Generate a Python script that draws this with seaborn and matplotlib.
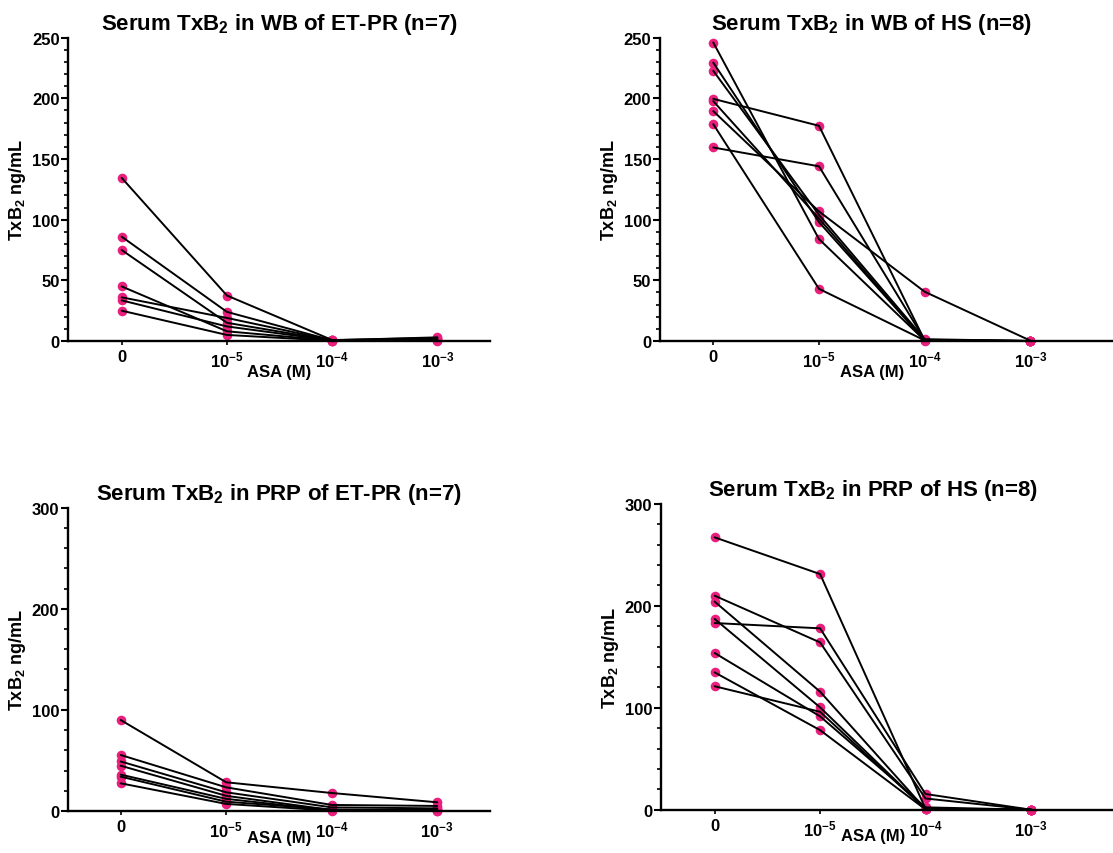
import matplotlib

matplotlib.use("Agg")
import matplotlib.pyplot as plt
from matplotlib.ticker import MultipleLocator
import pandas as pd
import seaborn as sns

sns.set_theme(style="ticks")
plt.rcParams["font.family"] = ["Liberation Sans", "DejaVu Sans"]
plt.rcParams["font.weight"] = "bold"
plt.rcParams["mathtext.fontset"] = "custom"
for key in ("rm", "it", "bf", "sf"):
    plt.rcParams[f"mathtext.{key}"] = "Liberation Sans:bold"
for key in ("text.color", "axes.labelcolor", "xtick.color", "ytick.color"):
    plt.rcParams[key] = "black"

PINK = "#E91E7D"

CONC_LABELS = ["0", "$10^{-5}$", "$10^{-4}$", "$10^{-3}$"]

# one row per subject: 0, 1e-5, 1e-4, 1e-3 M ASA (TxB2 ng/mL)
WB_ETPR = [
    [134.5, 37.5, 0.8, 2.5],
    [86.0, 24.0, 0.5, 1.5],
    [75.0, 15.0, 0.5, 1.0],
    [45.0, 8.0, 0.3, 0.5],
    [36.0, 19.0, 0.6, 3.0],
    [33.5, 12.0, 0.4, 0.8],
    [25.0, 5.0, 0.2, 0.3],
]

WB_HS = [
    [246.0, 84.0, 0.5, 0.0],
    [229.5, 98.0, 0.5, 0.0],
    [222.7, 104.0, 1.5, 0.0],
    [199.6, 177.4, 0.5, 0.0],
    [197.7, 101.0, 0.3, 0.0],
    [189.5, 106.8, 40.6, 0.3],
    [178.7, 43.0, 0.5, 0.0],
    [159.5, 144.0, 1.0, 0.0],
]

PRP_ETPR = [
    [90.0, 28.4, 17.8, 8.6],
    [55.4, 23.4, 6.0, 5.0],
    [49.0, 18.5, 3.6, 2.6],
    [44.8, 15.0, 1.0, 1.5],
    [36.0, 12.0, 0.5, 0.5],
    [34.0, 9.2, 1.5, 0.3],
    [27.4, 7.0, 0.3, 0.2],
]

PRP_HS = [
    [267.0, 231.0, 1.0, 0.0],
    [209.8, 164.0, 11.0, 0.0],
    [204.0, 115.7, 0.5, 0.0],
    [187.0, 100.3, 0.5, 0.0],
    [183.0, 177.8, 15.4, 0.0],
    [153.6, 91.5, 2.3, 0.0],
    [134.6, 78.0, 0.3, 0.0],
    [121.0, 96.0, 0.5, 0.0],
]

TITLES = [
    "Serum TxB$_2$ in WB of ET-PR (n=7)",
    "Serum TxB$_2$ in WB of HS (n=8)",
    "Serum TxB$_2$ in PRP of ET-PR (n=7)",
    "Serum TxB$_2$ in PRP of HS (n=8)",
]


def to_long(rows):
    recs = []
    for s, row in enumerate(rows):
        for i, v in enumerate(row):
            recs.append({"subject": s, "pos": i, "value": v})
    return pd.DataFrame(recs)


W, H = 1113, 854
fig = plt.figure(figsize=(W / 100, H / 100), dpi=100)

# (data, title, ymax, major, minor, left px, bottom px, top px, right px, xlim, xlabel y)
panels = [
    (WB_ETPR, TITLES[0], 250, 50, 10, 68, 342, 38.7, 490, (-0.51, 3.5), -0.075),
    (WB_HS, TITLES[1], 250, 50, 10, 659.7, 342, 38.7, 1120, (-0.507, 3.848), -0.075),
    (PRP_ETPR, TITLES[2], 300, 100, 20, 67.7, 812, 508.7, 490, (-0.502, 3.5), -0.064),
    (PRP_HS, TITLES[3], 300, 100, 20, 660.7, 810.7, 504.7, 1120, (-0.512, 3.845), -0.06),
]

for data, title, ymax, major, minor, l, b, t, r, xlim, xly in panels:
    ax = fig.add_axes([l / W, 1 - b / H, (r - l) / W, (b - t) / H])
    df = to_long(data)
    sns.scatterplot(data=df, x="pos", y="value", color=PINK, s=48,
                    linewidth=0, ax=ax, zorder=2, clip_on=False)
    sns.lineplot(data=df, x="pos", y="value", units="subject", estimator=None,
                 color="black", lw=1.4, ax=ax, zorder=3, sort=False)
    ax.set_xlim(*xlim)
    ax.set_ylim(0, ymax)
    ax.set_xticks(range(4))
    ax.set_xticklabels(CONC_LABELS)
    ax.yaxis.set_major_locator(MultipleLocator(major))
    ax.yaxis.set_minor_locator(MultipleLocator(minor))
    sns.despine(ax=ax)
    for side in ("left", "bottom"):
        ax.spines[side].set_linewidth(1.7)
        ax.spines[side].set_color("black")
    ax.tick_params(axis="y", which="major", length=5, width=1.5, labelsize=12, pad=1)
    ax.tick_params(axis="y", which="minor", length=3, width=1.2)
    ax.tick_params(axis="x", length=3, width=1.2, labelsize=12, pad=3)
    for lab in ax.get_xticklabels() + ax.get_yticklabels():
        lab.set_fontweight("bold")

    xc = (1.5 - xlim[0]) / (xlim[1] - xlim[0])
    ax.set_title(title, fontsize=16, fontweight="bold", x=xc)
    ax.set_xlabel("ASA (M)", fontsize=12, fontweight="bold")
    ax.xaxis.set_label_coords(xc, xly)
    ax.set_ylabel("TxB$_2$ ng/mL", fontsize=13, fontweight="bold")
    ax.yaxis.set_label_coords(-40 / (r - l), 0.5)

fig.savefig("out.png", dpi=100)
